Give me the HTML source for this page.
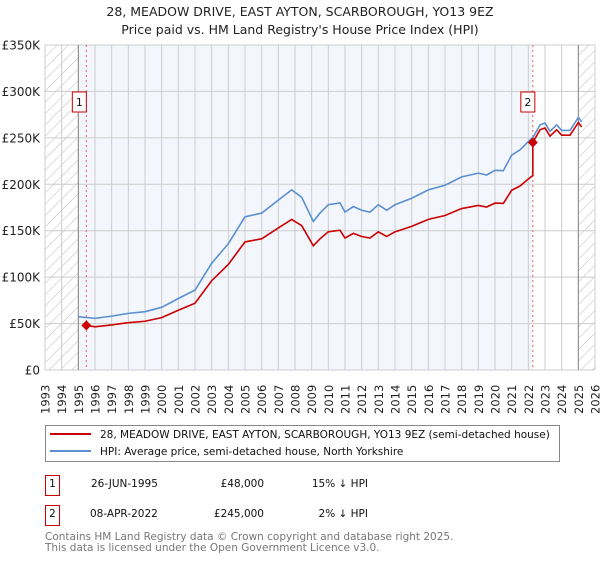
<!DOCTYPE html>
<html><head><meta charset="utf-8"><style>
body{margin:0;background:#fff;font-family:"DejaVu Sans","Liberation Sans",sans-serif;}
svg text{font-family:"DejaVu Sans","Liberation Sans",sans-serif;}
</style></head><body>
<svg id="c" width="600" height="560" xmlns="http://www.w3.org/2000/svg">
<defs><pattern id="h" width="8" height="8" patternUnits="userSpaceOnUse" patternTransform="rotate(45)"><line x1="0" y1="0" x2="0" y2="8" stroke="#bbb" stroke-width="1"/></pattern></defs>
<text x="300" y="16" text-anchor="middle" font-size="12.5" fill="#222">28, MEADOW DRIVE, EAST AYTON, SCARBOROUGH, YO13 9EZ</text>
<text x="300" y="34" text-anchor="middle" font-size="12.5" fill="#222">Price paid vs. HM Land Registry's House Price Index (HPI)</text>
<g id="plot"></g>
<g>
<rect x="45.5" y="425.5" width="514" height="36" fill="#fff" stroke="#888"/>
<line x1="50" y1="434" x2="91" y2="434" stroke="#cc0000" stroke-width="2"/>
<text x="100" y="438" font-size="10.5" fill="#111">28, MEADOW DRIVE, EAST AYTON, SCARBOROUGH, YO13 9EZ (semi-detached house)</text>
<line x1="50" y1="451" x2="91" y2="451" stroke="#5b8fd0" stroke-width="2"/>
<text x="100" y="455" font-size="10.5" fill="#111">HPI: Average price, semi-detached house, North Yorkshire</text>
</g>
<g font-size="10.5" fill="#111">
<rect x="45.5" y="475.5" width="14" height="20" fill="#fff" stroke="#cc0000"/>
<text x="52.5" y="487" text-anchor="middle">1</text>
<text x="91" y="487">26-JUN-1995</text>
<text x="264" y="487" text-anchor="end">£48,000</text>
<text x="368" y="487" text-anchor="end">15% ↓ HPI</text>
<rect x="45.5" y="505.5" width="14" height="20" fill="#fff" stroke="#cc0000"/>
<text x="52.5" y="517" text-anchor="middle">2</text>
<text x="90" y="517">08-APR-2022</text>
<text x="264" y="517" text-anchor="end">£245,000</text>
<text x="368" y="517" text-anchor="end">2% ↓ HPI</text>
</g>
<text x="45" y="540" font-size="10.5" fill="#777">Contains HM Land Registry data © Crown copyright and database right 2025.</text>
<text x="45" y="551" font-size="10.5" fill="#777">This data is licensed under the Open Government Licence v3.0.</text>
</svg>
<script>
const hpiYears=[1995.0,1996,1997,1998,1999,2000,2001,2002,2003,2004,2005,2006,2007,2007.8,2008.4,2009.1,2009.5,2010,2010.7,2011,2011.5,2012,2012.5,2013,2013.5,2014,2015,2016,2017,2018,2019,2019.5,2020,2020.5,2021,2021.5,2022,2022.3,2022.7,2023,2023.3,2023.7,2024,2024.5,2025.0,2025.2];
const hpiValues=[57.4,55.6,58,61,62.8,67.5,77,86,115,136,165,169,183,194,186,160,169,178,180,170,176,172,170,178,172,178,185,194,199,208,212,210,215,214.6,231.5,237,246,251,264,266,257,264,258,258,272,267];
const saleYears=[1995.48,2022.27];
const saleValues=[48,245];
const saleRatios=[0.836,0.98];
const yTicks=[0,50,100,150,200,250,300,350];
const yLabels=["£0","£50K","£100K","£150K","£200K","£250K","£300K","£350K"];
const xStart=1993,xEnd=2026;

const NS="http://www.w3.org/2000/svg";
const g=document.getElementById('plot');
const L=45,R=595,T=45,B=370;
const X=y=>L+(y-xStart)*(R-L)/(xEnd-xStart);
const Y=v=>B-v*(B-T)/350;
function mk(tag,a,parent){const e=document.createElementNS(NS,tag);for(const k in a)e.setAttribute(k,a[k]);(parent||g).appendChild(e);return e;}

let e;
e=mk('rect',{x:L,y:T,width:R-L,height:B-T,fill:'#fff'});


e=mk('rect',{x:X(1995),y:T,width:X(saleYears[1])-X(1995),height:B-T,fill:'#eef3fc',opacity:0.7});


e=mk('rect',{x:L,y:T,width:X(1995)-L,height:B-T,fill:'url(#h)'});


e=mk('rect',{x:X(2025),y:T,width:R-X(2025),height:B-T,fill:'url(#h)'});


for(let yr=xStart;yr<=xEnd;yr++){
  e=mk('line',{x1:X(yr),x2:X(yr),y1:T,y2:B,stroke:'#ccc','stroke-width':1});
  
  
  e=mk('text',{transform:`translate(${X(yr)+4.5},414) rotate(-90)`,'font-size':11.5,fill:'#222'});
  e.textContent=yr;
  
  
}
yTicks.forEach((v,i)=>{
  e=mk('line',{x1:L,x2:R,y1:Y(v),y2:Y(v),stroke:'#ccc','stroke-width':1});
  
  
  e=mk('text',{x:L-5,y:Y(v)+4.5,'text-anchor':'end','font-size':12,fill:'#222'});
  e.textContent=yLabels[i];
  
  
});
e=mk('line',{x1:X(1995),x2:X(1995),y1:T,y2:B,stroke:'#888','stroke-width':1});


e=mk('line',{x1:X(2025),x2:X(2025),y1:T,y2:B,stroke:'#888','stroke-width':1});


saleYears.forEach((sy,i)=>{
  e=mk('line',{x1:X(sy),x2:X(sy),y1:T,y2:B,stroke:'#e06060','stroke-width':1,'stroke-dasharray':'2,3'});
  
  
});
// HPI line
e=mk('polyline',{points:hpiYears.map((y,i)=>X(y)+','+Y(hpiValues[i])).join(' '),fill:'none',stroke:'#5b8fd0','stroke-width':1.6});


// price line: scaled HPI with ratio by sale period
function hpiAt(t){for(let i=1;i<hpiYears.length;i++){if(t<=hpiYears[i]){const f=(t-hpiYears[i-1])/(hpiYears[i]-hpiYears[i-1]);return hpiValues[i-1]+f*(hpiValues[i]-hpiValues[i-1]);}}return hpiValues[hpiValues.length-1];}
const pts=[];
pts.push([saleYears[0],saleValues[0]]);
hpiYears.forEach((y,i)=>{if(y>saleYears[0]&&y<saleYears[1])pts.push([y,hpiValues[i]*saleRatios[0]]);});
pts.push([saleYears[1],hpiAt(saleYears[1])*saleRatios[0]]);
pts.push([saleYears[1],saleValues[1]]);
hpiYears.forEach((y,i)=>{if(y>saleYears[1])pts.push([y,hpiValues[i]*saleRatios[1]]);});
e=mk('polyline',{points:pts.map(p=>X(p[0])+','+Y(p[1])).join(' '),fill:'none',stroke:'#cc0000','stroke-width':1.6});


saleYears.forEach((sy,i)=>{
  const cx=X(sy),cy=Y(saleValues[i]);
  e=mk('polygon',{points:`${cx},${cy-5} ${cx+5},${cy} ${cx},${cy+5} ${cx-5},${cy}`,fill:'#cc0000'});
  
  
  e=mk('rect',{x:cx-7-(i?5:7),y:92,width:14,height:20,fill:'#fff',stroke:'#cc0000'});
  
  
  e=mk('text',{x:cx-(i?5:7),y:106,'text-anchor':'middle','font-size':11,fill:'#111'});
  e.textContent=String(i+1);
  
  
});
</script>
</body></html>
